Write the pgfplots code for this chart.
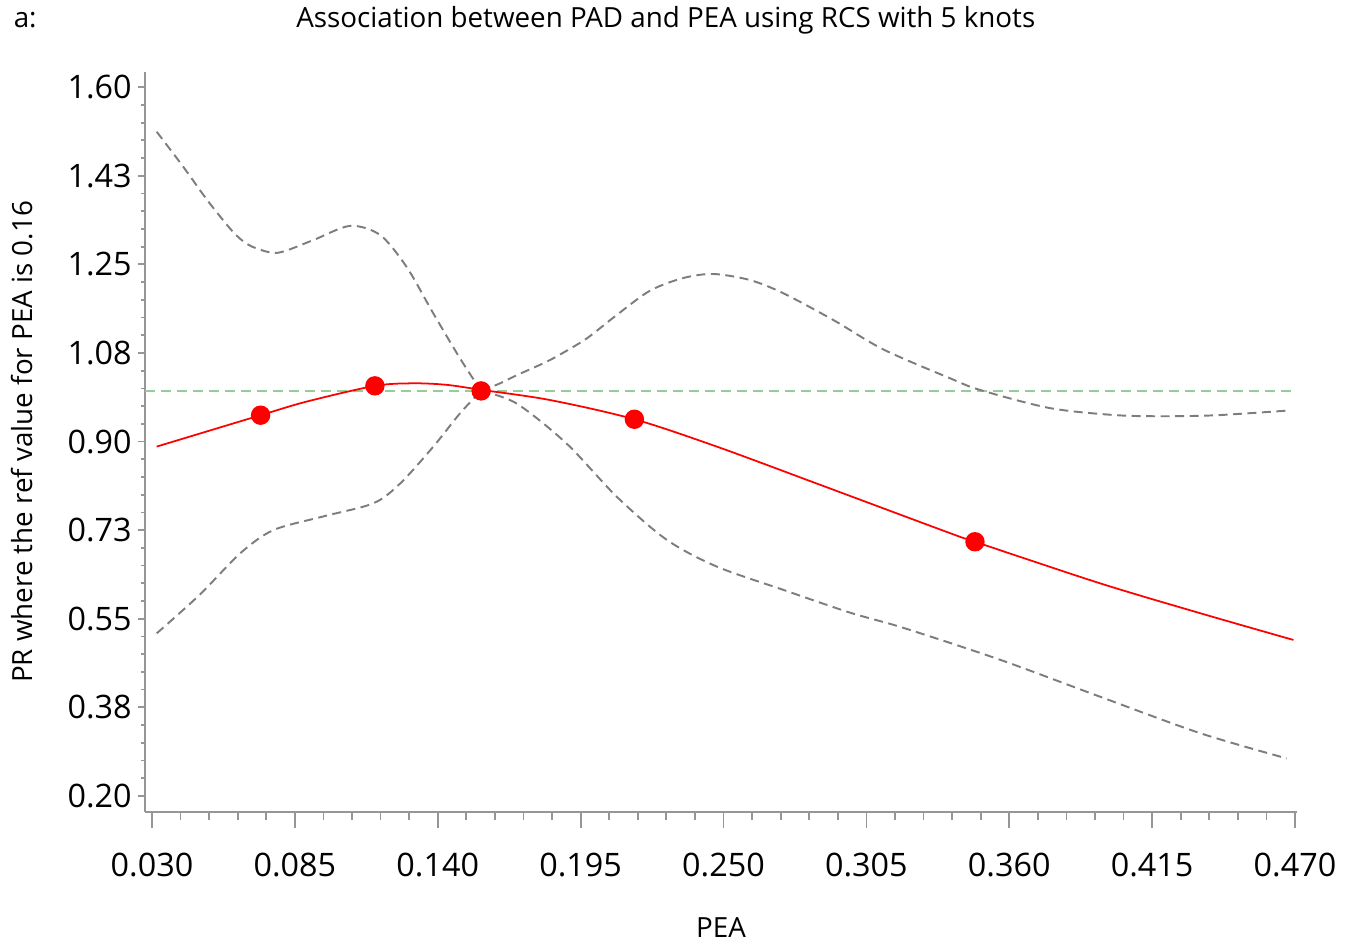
\documentclass[border=0pt]{standalone}
\usepackage{fontspec}
\setmainfont{Open Sans}
\usepackage{pgfplots}
\pgfplotsset{compat=1.18}

\definecolor{cigray}{RGB}{125,125,125}
\definecolor{refgreen}{RGB}{150,205,150}
\definecolor{axgray}{RGB}{150,150,150}

\begin{document}
\begin{tikzpicture}
\begin{axis}[
  scale only axis,
  width=115.2mm, height=74mm,
  xmin=0.0273, xmax=0.4708,
  ymin=0.168, ymax=1.630,
  axis lines=left,
  axis line style={-, axgray, line width=0.6pt},
  tick align=outside,
  tick style={axgray, line width=0.5pt},
  xtick style={/pgfplots/major tick length=1.6mm, /pgfplots/minor tick length=0.8mm},
  ytick style={/pgfplots/major tick length=0.7mm, /pgfplots/minor tick length=0.4mm},
  minor tick num=4,
  xtick={0.030,0.085,0.140,0.195,0.250,0.305,0.360,0.415,0.470},
  xticklabels={0.030,0.085,0.140,0.195,0.250,0.305,0.360,0.415,0.470},
  ytick={0.2,0.375,0.55,0.725,0.9,1.075,1.25,1.425,1.6},
  yticklabels={0.20,0.38,0.55,0.73,0.90,1.08,1.25,1.43,1.60},
  /pgf/number format/assume math mode=true,
  tick label style={font=\fontsize{9.2}{11}\selectfont, black},
  xticklabel style={yshift=-1.4mm},
  yticklabel style={xshift=1.4mm},
  xlabel={PEA},
  xlabel style={at={(rel axis cs:0.5,-0.1554)}, anchor=center, font=\fontsize{7.9}{9}\selectfont},
  ylabel={PR where the ref value for PEA is 0.16},
  ylabel style={at={(rel axis cs:-0.1068,0.5)}, anchor=center, rotate=0, font=\fontsize{7.9}{9}\selectfont},
  clip=false,
]
% reference line at PR = 1
\addplot[refgreen, line width=0.45pt, dash pattern=on 1.0mm off 0.6mm] coordinates {(0.0273,1.0) (0.4708,1.0)};

% upper confidence band, left of the reference value
\addplot[cigray, line width=0.55pt, dash pattern=on 0.9mm off 0.55mm, smooth] coordinates {
(0.0318,1.512) (0.0420,1.443) (0.0511,1.378) (0.0600,1.321) (0.0650,1.296) (0.0700,1.282) (0.0786,1.273)
(0.0921,1.298) (0.1062,1.326) (0.1178,1.308) (0.1280,1.245) (0.1383,1.153) (0.1486,1.064) (0.1567,1.000)};
% upper confidence band, right
\addplot[cigray, line width=0.55pt, dash pattern=on 0.9mm off 0.55mm, smooth] coordinates {
(0.1567,1.000) (0.1640,1.015) (0.1704,1.031) (0.1832,1.061) (0.1960,1.099) (0.2025,1.124) (0.2089,1.150)
(0.2217,1.198) (0.2345,1.223) (0.2461,1.231) (0.2602,1.219) (0.2730,1.193) (0.2923,1.140) (0.3115,1.082)
(0.3372,1.025) (0.3487,1.002) (0.3757,0.966) (0.4014,0.952) (0.4206,0.950) (0.4399,0.952) (0.4668,0.961)};
% lower confidence band, left
\addplot[cigray, line width=0.55pt, dash pattern=on 0.9mm off 0.55mm, smooth] coordinates {
(0.0318,0.521) (0.0485,0.598) (0.0639,0.679) (0.0767,0.725) (0.0959,0.752) (0.1152,0.778)
(0.1255,0.817) (0.1383,0.890) (0.1486,0.956) (0.1567,1.000)};
% lower confidence band, right
\addplot[cigray, line width=0.55pt, dash pattern=on 0.9mm off 0.55mm, smooth] coordinates {
(0.1567,1.000) (0.1704,0.975) (0.1896,0.896) (0.2089,0.791) (0.2281,0.706) (0.2474,0.653)
(0.2730,0.607) (0.2987,0.562) (0.3192,0.532) (0.3564,0.469) (0.3949,0.396) (0.4334,0.324) (0.4668,0.274)};

% estimated PR
\addplot[red, line width=0.5pt, smooth] coordinates {
(0.0318,0.890) (0.0718,0.952) (0.0896,0.979) (0.1158,1.010) (0.1306,1.015) (0.1434,1.012)
(0.1569,1.002) (0.1832,0.982) (0.2157,0.944) (0.2474,0.890) (0.2859,0.817) (0.3372,0.719)
(0.3468,0.702) (0.3949,0.620) (0.4334,0.561) (0.4694,0.508)};

% knots
\addplot[only marks, mark=*, mark size=0.9mm, red, mark options={fill=red, draw=red}] coordinates {
(0.0718,0.952) (0.1158,1.010) (0.1567,1.000) (0.2157,0.944) (0.3468,0.702)};

\node[font=\fontsize{7.9}{9}\selectfont] at (rel axis cs:-0.104,1.0703) {a:};
\node[font=\fontsize{7.9}{9}\selectfont] at (rel axis cs:0.452,1.0703) {Association between PAD and PEA using RCS with 5 knots};
\coordinate (bl) at (rel axis cs:-0.12587,-0.1784);
\coordinate (tr) at (rel axis cs:1.0503,1.0973);
\end{axis}
\pgfresetboundingbox
\useasboundingbox (bl) rectangle (tr);
\end{tikzpicture}
\end{document}
